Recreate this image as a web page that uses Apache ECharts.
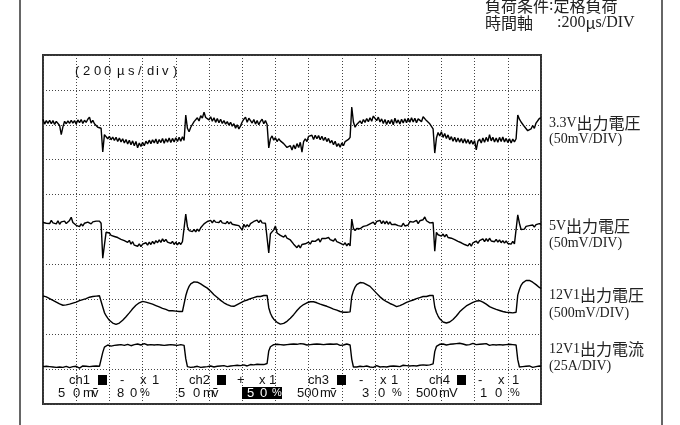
<!DOCTYPE html>
<html><head><meta charset="utf-8">
<script src="https://cdn.jsdelivr.net/npm/echarts@6/dist/echarts.min.js"></script>
<style>html,body{margin:0;padding:0;background:#fff}#c{width:680px;height:425px}</style>
</head><body><div id="c"></div>
<script>
// time axis: 15 divisions x 200 us, one sample every 10 us
const sampleStepUs = 10;
const timeSpanUs = 3000;
const divTickUs = 200;
const screenDivs = 10;

// trace values in screen divisions (0 = bottom of graticule)
const ch1_3V3 = [
8.16,8.02,8.12,8.04,8.13,8.03,8.12,8.01,8.10,8.05,7.98,7.72,7.94,8.10,8.03,8.11,8.04,8.13,8.05,8.12,8.02,8.14,8.06,8.15,8.04,8.13,8.07,8.16,8.22,8.05,8.13,8.03,8.01,7.93,7.97,7.90,
7.22,7.72,7.68,7.60,7.67,7.57,7.65,7.55,7.64,7.52,7.62,7.51,7.60,7.48,7.58,7.45,7.56,7.43,7.54,7.40,7.52,7.34,7.48,7.38,7.50,7.40,7.53,7.45,7.56,7.46,7.57,7.48,7.59,7.46,7.58,7.49,7.61,7.47,7.60,7.50,7.62,7.49,7.61,7.51,7.63,7.52,7.64,7.53,7.66,7.55,
8.28,7.90,7.80,7.93,7.95,8.09,8.05,8.20,8.11,8.26,8.19,8.36,8.21,8.26,8.14,8.23,8.10,8.20,8.07,8.18,8.06,8.16,8.04,8.12,8.02,8.09,7.99,8.07,7.96,8.03,7.90,8.00,7.88,7.97,8.08,8.16,8.22,8.07,8.19,8.21,8.05,8.15,8.02,8.12,8.00,8.10,8.16,8.03,8.12,8.01,
7.34,7.60,7.68,7.56,7.63,7.52,7.60,7.54,7.57,7.46,7.49,7.35,7.30,7.40,7.28,7.42,7.31,7.46,7.35,7.50,7.22,7.52,7.60,7.52,7.67,7.62,7.70,7.58,7.70,7.60,7.69,7.57,7.67,7.55,7.64,7.52,7.61,7.48,7.55,7.43,7.53,7.38,7.46,7.36,7.48,7.40,7.52,7.50,7.58,7.64,
8.51,8.08,7.93,8.01,8.00,8.11,8.03,8.15,8.07,8.18,8.09,8.20,8.10,8.25,8.30,8.12,8.22,8.08,8.17,8.04,8.15,8.01,8.13,8.03,8.15,8.00,8.19,8.05,8.14,8.02,8.16,8.05,8.17,8.06,8.19,8.07,8.20,8.08,8.19,8.06,8.17,8.21,8.09,8.23,8.26,8.12,8.14,8.03,8.00,7.88,
7.19,7.62,7.78,7.68,7.80,7.64,7.75,7.61,7.71,7.57,7.66,7.53,7.64,7.51,7.62,7.50,7.61,7.48,7.60,7.47,7.58,7.45,7.56,7.44,7.55,7.28,7.53,7.59,7.48,7.62,7.50,7.64,7.52,7.72,7.54,7.64,7.51,7.62,7.50,7.64,7.52,7.65,7.51,7.61,7.49,7.60,7.48,7.59,7.51,7.60,
8.28,8.16,8.08,8.07,7.95,7.94,7.83,7.86,7.88,7.98,7.90,8.05,8.06,8.18,8.20
];
const ch2_5V = [
5.20,5.25,5.18,5.23,5.17,5.26,5.19,5.24,5.16,5.25,5.15,5.22,5.19,5.24,5.17,5.22,5.26,5.35,5.20,5.16,5.12,5.15,5.08,5.16,5.10,5.18,5.13,5.21,5.23,5.16,5.22,5.17,5.24,5.19,5.24,5.18,
4.18,4.55,4.92,4.88,4.90,4.83,4.88,4.80,4.85,4.77,4.81,4.72,4.77,4.68,4.73,4.63,4.69,4.58,4.65,4.55,4.60,4.52,4.59,4.51,4.58,4.54,4.62,4.55,4.64,4.57,4.66,4.59,4.68,4.62,4.70,4.63,4.73,4.65,4.72,4.64,4.68,4.60,4.66,4.57,4.64,4.56,4.63,4.57,4.65,4.60,
5.44,5.08,4.97,5.01,4.94,5.00,4.93,5.01,4.95,5.05,5.07,5.16,5.17,5.23,5.19,5.26,5.19,5.27,5.21,5.25,5.20,5.26,5.19,5.24,5.17,5.23,5.16,5.22,5.15,5.20,5.13,5.18,5.11,5.15,4.98,5.15,5.07,5.14,5.08,5.17,5.14,5.23,5.19,5.27,5.20,5.27,5.19,5.24,5.18,5.23,
4.33,4.88,4.91,4.99,5.10,4.90,4.91,4.83,4.86,4.78,4.84,4.75,4.79,4.70,4.72,4.58,4.57,4.48,4.55,4.47,4.57,4.54,4.59,4.57,4.64,4.58,4.67,4.62,4.66,4.65,4.73,4.64,4.74,4.70,4.74,4.72,4.77,4.71,4.75,4.67,4.74,4.65,4.69,4.61,4.64,4.56,4.62,4.53,4.60,4.53,
5.30,5.03,4.97,5.03,4.99,5.02,5.01,5.09,5.04,5.11,5.08,5.16,5.12,5.21,5.14,5.23,5.18,5.26,5.17,5.25,5.16,5.24,5.15,5.22,5.14,5.19,5.15,5.17,5.11,5.16,5.09,5.18,5.10,5.15,5.13,5.23,5.19,5.21,5.18,5.26,5.17,5.25,5.21,5.28,5.36,5.25,5.27,5.19,5.24,5.20,
4.38,4.92,4.85,4.89,4.81,4.87,4.79,4.86,4.77,4.82,4.75,4.77,4.71,4.72,4.66,4.68,4.62,4.64,4.57,4.60,4.53,4.60,4.52,4.62,4.58,4.67,4.60,4.68,4.64,4.73,4.65,4.74,4.66,4.75,4.67,4.71,4.65,4.72,4.64,4.70,4.62,4.68,4.61,4.67,4.60,4.65,4.58,4.66,4.59,4.64,
5.42,5.18,5.00,5.02,5.01,5.09,5.04,5.11,5.06,5.13,5.07,5.14,5.10,5.17,5.15
];
const ch3_12V1 = [
3.10,3.07,3.07,3.03,3.02,2.97,2.97,2.92,2.92,2.87,2.87,2.83,2.83,2.80,2.84,2.81,2.86,2.85,2.89,2.89,2.92,2.92,2.96,2.95,2.99,2.98,3.02,3.02,3.06,3.03,3.08,3.05,3.09,3.06,3.10,3.07,
2.78,2.62,2.53,2.46,2.40,2.36,2.32,2.29,2.28,2.30,2.32,2.36,2.40,2.45,2.50,2.55,2.61,2.67,2.73,2.78,2.83,2.85,2.90,2.90,2.94,2.91,2.92,2.89,2.89,2.86,2.86,2.82,2.82,2.78,2.78,2.74,2.74,2.71,2.71,2.67,2.67,2.64,2.67,2.63,2.66,2.62,2.65,2.61,2.65,2.63,
3.10,3.26,3.37,3.44,3.48,3.50,3.51,3.49,3.47,3.44,3.41,3.38,3.35,3.32,3.28,3.23,3.18,3.13,3.09,3.05,3.01,2.97,2.93,2.90,2.87,2.85,2.83,2.81,2.80,2.80,2.82,2.85,2.86,2.90,2.91,2.95,2.95,2.98,2.98,3.02,3.01,3.05,3.04,3.08,3.07,3.08,3.08,3.11,3.10,3.11,
2.76,2.60,2.50,2.43,2.38,2.34,2.31,2.29,2.29,2.31,2.33,2.37,2.41,2.46,2.51,2.56,2.62,2.68,2.73,2.78,2.83,2.85,2.90,2.90,2.94,2.93,2.96,2.93,2.93,2.90,2.90,2.86,2.87,2.83,2.83,2.80,2.80,2.76,2.76,2.72,2.72,2.69,2.69,2.65,2.66,2.63,2.64,2.63,2.61,2.64,
3.08,3.24,3.35,3.42,3.46,3.48,3.48,3.47,3.45,3.42,3.40,3.37,3.32,3.27,3.22,3.17,3.12,3.07,3.03,2.99,2.96,2.93,2.90,2.88,2.86,2.84,2.80,2.79,2.80,2.82,2.85,2.86,2.90,2.91,2.95,2.95,2.99,2.98,3.02,3.02,3.05,3.05,3.08,3.08,3.11,3.08,3.12,3.11,3.13,3.11,
2.78,2.62,2.52,2.44,2.39,2.35,2.32,2.32,2.33,2.35,2.38,2.42,2.47,2.52,2.58,2.64,2.69,2.73,2.77,2.81,2.85,2.86,2.90,2.91,2.95,2.95,2.99,2.96,2.96,2.92,2.91,2.86,2.85,2.79,2.79,2.75,2.75,2.71,2.71,2.68,2.68,2.65,2.66,2.63,2.65,2.62,2.65,2.61,2.64,2.63,
3.12,3.28,3.40,3.47,3.52,3.54,3.55,3.54,3.52,3.49,3.46,3.42,3.38,3.34,3.31
];
const ch4_12V1A = [
1.07,1.05,1.08,1.06,1.07,1.04,1.06,1.08,1.05,1.07,1.06,1.09,1.05,1.06,1.08,1.07,1.04,1.06,1.07,1.05,1.08,1.06,1.03,1.07,1.09,1.06,1.08,1.05,1.07,1.10,1.08,1.06,1.09,1.07,1.08,1.10,
1.48,1.63,
1.67,1.69,1.68,1.66,1.70,1.68,1.67,1.69,1.68,1.70,1.67,1.68,1.69,1.71,1.68,1.67,1.69,1.70,1.68,1.72,1.70,1.69,1.71,1.73,1.70,1.69,1.71,1.70,1.72,1.69,1.68,1.70,1.71,1.69,1.70,1.68,1.71,1.69,1.67,1.70,1.68,1.69,1.71,1.68,1.67,1.70,1.69,1.68,
1.30,1.07,
1.03,1.05,1.07,1.06,1.04,1.08,1.07,1.05,1.09,1.06,1.08,1.07,1.05,1.09,1.07,1.06,1.10,1.08,1.07,1.09,1.06,1.10,1.08,1.07,1.11,1.09,1.08,1.10,1.07,1.11,1.09,1.10,1.08,1.12,1.10,1.09,1.11,1.13,1.10,1.12,1.11,1.14,1.12,1.13,1.15,1.13,1.14,1.16,
1.52,1.64,
1.68,1.70,1.69,1.71,1.68,1.70,1.72,1.69,1.71,1.70,1.68,1.71,1.69,1.72,1.70,1.71,1.69,1.73,1.70,1.72,1.71,1.69,1.72,1.70,1.73,1.71,1.70,1.72,1.69,1.71,1.73,1.70,1.72,1.71,1.69,1.72,1.70,1.71,1.69,1.72,1.70,1.68,1.71,1.69,1.70,1.72,1.70,1.69,
1.28,1.06,
1.03,1.06,1.05,1.08,1.06,1.07,1.05,1.09,1.07,1.06,1.08,1.05,1.07,1.10,1.08,1.06,1.09,1.07,1.08,1.06,1.10,1.08,1.07,1.09,1.11,1.08,1.10,1.07,1.09,1.11,1.08,1.10,1.12,1.09,1.11,1.10,1.12,1.09,1.13,1.11,1.10,1.12,1.14,1.11,1.13,1.12,1.14,1.15,
1.50,1.65,
1.69,1.71,1.68,1.72,1.70,1.69,1.73,1.71,1.70,1.72,1.69,1.73,1.71,1.74,1.70,1.72,1.71,1.69,1.73,1.70,1.72,1.74,1.71,1.70,1.73,1.71,1.69,1.72,1.70,1.73,1.71,1.68,1.72,1.70,1.71,1.69,1.72,1.70,1.73,1.69,1.71,1.70,1.68,1.71,1.69,1.70,1.68,1.69,
1.27,1.06,
1.04,1.07,1.05,1.08,1.06,1.09,1.07,1.05,1.08,1.07,1.06,1.09,1.08
];

// texts
const headerLine1 = ['負荷条件', ':', '定格負荷'];
const headerLine2 = ['時間軸　', '  :200', 'μ', 's/DIV'];
const traceLabels = [
  ['3.3V', '出力電圧', '(50mV/DIV)'],
  ['5V', '出力電圧', '(50mV/DIV)'],
  ['12V1', '出力電圧', '(500mV/DIV)'],
  ['12V1', '出力電流', '(25A/DIV)']
];

const toPairs = arr => arr.map((v, i) => [i * sampleStepUs, v]);

const CJK = '"Noto Sans CJK JP"';
const SERIF = '"Liberation Serif", "DejaVu Serif"';
const SANS = '"Liberation Sans", "DejaVu Sans"';

const graphics = [];
// outer frame side lines
graphics.push({type:'line', shape:{x1:20,y1:0,x2:20,y2:425}, style:{stroke:'#666', lineWidth:2}});
graphics.push({type:'line', shape:{x1:662,y1:0,x2:662,y2:425}, style:{stroke:'#666', lineWidth:2}});

function richText(x, y, str, rich) {
  graphics.push({type:'text', x:x, y:y, z:100, style:{text:str, rich:rich, fill:'#222',
    textAlign:'left', textVerticalAlign:'middle', align:'left', verticalAlign:'middle'}});
}
const headStyles = {
  c: {fontFamily: CJK, fontSize: 16, fill:'#222'},
  l: {fontFamily: SERIF, fontSize: 16, fill:'#222'}
};
const labelStyles = {
  c: {fontFamily: CJK, fontSize: 16, fill:'#222'},
  l: {fontFamily: SERIF, fontSize: 14, fill:'#222'}
};
richText(485, 6, '{c|' + headerLine1[0] + '}{l|' + headerLine1[1] + '}{c|' + headerLine1[2] + '}', headStyles);
richText(485, 23, '{c|' + headerLine2[0] + '}{l|' + headerLine2[1] + '}{c|' + headerLine2[2] + '}{l|' + headerLine2[3] + '}', headStyles);

const labelY = [[123,139],[226,243],[295,313],[349,366]];
traceLabels.forEach((t, k) => {
  richText(549, labelY[k][0], '{l|' + t[0] + '}{c|' + t[1] + '}', labelStyles);
  richText(549, labelY[k][1], '{l|' + t[2] + '}', labelStyles);
});

function txt(s, x, y, size, color) {
  graphics.push({type:'text', x:x, y:y, z:100, style:{text:s, font: size + 'px ' + SANS, fill: color || '#111',
    textAlign:'left', textVerticalAlign:'middle', align:'left', verticalAlign:'middle'}});
}
// scope annotation
[['(',75],['2',83],['0',94],['0',104],['µ',117],['s',128],['/',138],['d',147],['i',156],['v',162],[')',173]]
  .forEach(p => txt(p[0], p[1], 71, 13));

// channel row 1
const row1 = [
  ['ch1',69],['-',120],['x',140],['1',152],
  ['ch2',189],['+',237],['x',259],['1',269],
  ['ch3',308],['-',359],['x',380],['1',391],
  ['ch4',429],['-',478],['x',498],['1',512]
];
row1.forEach(p => txt(p[0], p[1], 380, 13));
[98, 217, 337, 457].forEach(x => graphics.push({type:'rect', z:100, shape:{x:x, y:375, width:9, height:10}, style:{fill:'#000'}}));
// channel row 2
graphics.push({type:'rect', z:99, shape:{x:242, y:387, width:40, height:12}, style:{fill:'#000'}});
const row2 = [
  ['5',58],['0',73],['m',83],['ṽ',92],['8',117],['0',130],['%',140],
  ['5',178],['0',193],['m',203],['ṽ',212],
  ['500',297],['m',320],['ṽ',330],['3',362],['0',378],['%',392],
  ['500',416],['m',439],['V',449],['1',480],['0',495],['%',510]
];
row2.forEach(p => txt(p[0], p[1], 393, p[0] === '%' ? 11 : 13));
[['5',247],['0',260],['%',272]].forEach(p => txt(p[0], p[1], 393, p[0] === '%' ? 11 : 13, '#fff'));

const dotted = {show:true, lineStyle:{color:'#444', type:[1,2], width:1}};
const chart = echarts.init(document.getElementById('c'), null, {renderer:'canvas'});
const mk = (name, arr) => ({
  name: name, type:'line', data: toPairs(arr), showSymbol:false, symbol:'none',
  lineStyle:{color:'#000', width:1.4}, silent:true, clip:true, z:3
});
chart.setOption({
  animation:false,
  backgroundColor:'#fff',
  grid:{left:43, right:139, top:55, bottom:21, show:true, borderColor:'#333', borderWidth:2, backgroundColor:'transparent'},
  xAxis:{type:'value', min:0, max:timeSpanUs, interval:divTickUs, axisLine:{show:false}, axisTick:{show:false}, axisLabel:{show:false}, splitLine:dotted},
  yAxis:{type:'value', min:0, max:screenDivs, interval:1, axisLine:{show:false}, axisTick:{show:false}, axisLabel:{show:false}, splitLine:dotted},
  series:[mk('3.3V', ch1_3V3), mk('5V', ch2_5V), mk('12V1 V', ch3_12V1), mk('12V1 A', ch4_12V1A)],
  graphic:{elements:graphics}
});
</script></body></html>
